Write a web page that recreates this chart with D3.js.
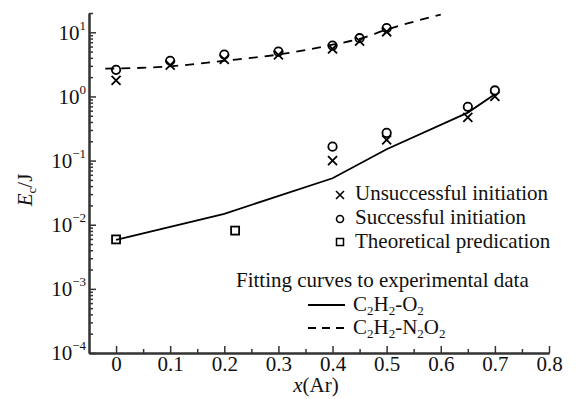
<!DOCTYPE html>
<html>
<head>
<meta charset="utf-8">
<script src="https://cdn.jsdelivr.net/npm/d3@7"></script>
<style>
  html, body { margin: 0; padding: 0; background: #fff; }
  svg { display: block; font-family: "Liberation Serif", "DejaVu Serif", serif; }
</style>
</head>
<body>
<svg id="chart" width="578" height="399"></svg>
<script>
// x positions (Ar fraction) and energies (J)
const unsucX = [0, 0.1, 0.2, 0.3, 0.4, 0.45, 0.5, 0.4, 0.5, 0.65, 0.7];
const unsucY = [1.78, 3.07, 3.77, 4.45, 5.5, 7.3, 10.2, 0.1, 0.21, 0.47, 1.0];
const succX = [0, 0.1, 0.2, 0.3, 0.4, 0.45, 0.5, 0.4, 0.5, 0.65, 0.7];
const succY = [2.6, 3.6, 4.5, 5.0, 6.2, 8.1, 11.6, 0.165, 0.27, 0.69, 1.24];
const theoX = [0, 0.22];
const theoY = [0.0059, 0.0081];

// fitting curves
const fitO2X = [0, 0.2, 0.4, 0.5, 0.65, 0.7];
const fitO2Y = [0.0058, 0.0148, 0.053, 0.15, 0.56, 1.08];
const fitN2O2X = [-0.02, 0, 0.1, 0.2, 0.3, 0.4, 0.45, 0.5, 0.6];
const fitN2O2Y = [2.72, 2.73, 2.95, 3.6, 4.5, 6.4, 7.9, 11.0, 18.9];

const xTicks = [0, 0.1, 0.2, 0.3, 0.4, 0.5, 0.6, 0.7, 0.8];
const xMinor = [0.05, 0.15, 0.25, 0.35, 0.45, 0.55, 0.65, 0.75];
const yExp = [-4, -3, -2, -1, 0, 1];

const svg = d3.select("#chart");
const axisColor = "#333";
const serif = "Liberation Serif";

const x = d3.scaleLinear().domain([-0.05, 0.8]).range([89, 549]);
const y = d3.scaleLog().domain([1e-4, 20]).range([353, 13]);

// minor ticks for log axis: 2..9 per decade
let yMinor = [];
yExp.forEach(e => {
  for (let k = 2; k <= 9; k++) {
    const v = k * Math.pow(10, e);
    if (v <= 20) yMinor.push(v);
  }
});

// x axis
const gx = svg.append("g").attr("transform", "translate(0,353)");
gx.call(d3.axisBottom(x).tickValues(xTicks).tickSizeInner(-7).tickSizeOuter(0)
  .tickPadding(3).tickFormat(d => d === 0 ? "0" : d3.format(".1f")(d)));
gx.append("g").call(d3.axisBottom(x).tickValues(xMinor).tickSizeInner(-4)
  .tickSizeOuter(0).tickFormat(""));
gx.attr("font-family", serif).attr("font-size", 21);
gx.selectAll("text").attr("fill", "#111");

// y axis
const gy = svg.append("g").attr("transform", "translate(89,0)");
gy.call(d3.axisLeft(y).tickValues(yExp.map(e => Math.pow(10, e)))
  .tickSizeInner(-7).tickSizeOuter(0).tickPadding(3).tickFormat(""));
gy.attr("font-family", serif).attr("font-size", 21);
gy.selectAll(".tick text").each(function(d) {
  const t = d3.select(this);
  const e = Math.round(Math.log10(d));
  t.attr("fill", "#111");
  t.append("tspan").text("10");
  t.append("tspan").attr("font-size", 13).attr("dy", "-0.75em")
    .text(e < 0 ? "\u2212" + (-e) : String(e));
});
gy.append("g").call(d3.axisLeft(y).tickValues(yMinor).tickSizeInner(-4)
  .tickSizeOuter(0).tickFormat(""));

svg.selectAll(".domain").attr("stroke", axisColor).attr("stroke-width", 2);
svg.selectAll(".tick line").attr("stroke", axisColor).attr("stroke-width", 1.5);

// fitting curves
const plot = svg.append("g");
plot.append("path")
  .datum(d3.zip(fitO2X, fitO2Y))
  .attr("d", d3.line().x(d => x(d[0])).y(d => y(d[1])))
  .attr("fill", "none").attr("stroke", "#000").attr("stroke-width", 1.8);
plot.append("path")
  .datum(d3.zip(fitN2O2X, fitN2O2Y))
  .attr("d", d3.line().x(d => x(d[0])).y(d => y(d[1])).curve(d3.curveMonotoneX))
  .attr("fill", "none").attr("stroke", "#000").attr("stroke-width", 1.8)
  .attr("stroke-dasharray", "9,7");

// markers
const crossPath = s => `M${-s},${-s}L${s},${s}M${-s},${s}L${s},${-s}`;
plot.selectAll(".unsuc").data(d3.zip(unsucX, unsucY)).enter().append("path")
  .attr("class", "unsuc")
  .attr("transform", d => `translate(${x(d[0])},${y(d[1])})`)
  .attr("d", crossPath(4.5))
  .attr("stroke", "#000").attr("stroke-width", 1.8).attr("fill", "none");
plot.selectAll(".succ").data(d3.zip(succX, succY)).enter().append("circle")
  .attr("class", "succ")
  .attr("cx", d => x(d[0])).attr("cy", d => y(d[1])).attr("r", 4.2)
  .attr("stroke", "#000").attr("stroke-width", 1.8).attr("fill", "none");
plot.selectAll(".theo").data(d3.zip(theoX, theoY)).enter().append("rect")
  .attr("class", "theo")
  .attr("x", d => x(d[0]) - 4).attr("y", d => y(d[1]) - 4)
  .attr("width", 8).attr("height", 8)
  .attr("stroke", "#000").attr("stroke-width", 1.8).attr("fill", "none");

// legend
const leg = svg.append("g").attr("font-size", 21).attr("fill", "#111");
leg.append("path").attr("transform", "translate(340,195)").attr("d", crossPath(4))
  .attr("stroke", "#000").attr("stroke-width", 1.6);
leg.append("text").attr("x", 355).attr("y", 200).text("Unsuccessful initiation");
leg.append("circle").attr("cx", 340).attr("cy", 219).attr("r", 3.5)
  .attr("stroke", "#000").attr("stroke-width", 1.6).attr("fill", "none");
leg.append("text").attr("x", 355).attr("y", 224).text("Successful initiation");
leg.append("rect").attr("x", 336.5).attr("y", 238.5).attr("width", 7).attr("height", 7)
  .attr("stroke", "#000").attr("stroke-width", 1.5).attr("fill", "none");
leg.append("text").attr("x", 355).attr("y", 248).text("Theoretical predication");
leg.append("text").attr("x", 236).attr("y", 287).text("Fitting curves to experimental data");

leg.append("line").attr("x1", 308).attr("x2", 345).attr("y1", 305).attr("y2", 305)
  .attr("stroke", "#000").attr("stroke-width", 1.8);
leg.append("line").attr("x1", 308).attr("x2", 345).attr("y1", 328).attr("y2", 328)
  .attr("stroke", "#000").attr("stroke-width", 1.8).attr("stroke-dasharray", "8,6");

function formula(textSel, parts) {
  parts.forEach(p => {
    if (p.sub) {
      textSel.append("tspan").attr("font-size", 13).attr("dy", "4").text(p.t);
    } else {
      textSel.append("tspan").attr("dy", p.back ? "-4" : "0").text(p.t);
    }
  });
}
const f1 = leg.append("text").attr("x", 353).attr("y", 311);
formula(f1, [{t: "C"}, {t: "2", sub: 1}, {t: "H", back: 1}, {t: "2", sub: 1},
  {t: "-O", back: 1}, {t: "2", sub: 1}]);
const f2 = leg.append("text").attr("x", 353).attr("y", 334);
formula(f2, [{t: "C"}, {t: "2", sub: 1}, {t: "H", back: 1}, {t: "2", sub: 1},
  {t: "-N", back: 1}, {t: "2", sub: 1}, {t: "O", back: 1}, {t: "2", sub: 1}]);

// axis titles
const xt = svg.append("text").attr("x", 316).attr("y", 392)
  .attr("text-anchor", "middle").attr("font-size", 21).attr("fill", "#111");
xt.append("tspan").attr("font-style", "italic").text("x");
xt.append("tspan").text("(Ar)");

const yt = svg.append("text").attr("transform", "translate(32,190) rotate(-90)")
  .attr("text-anchor", "middle").attr("font-size", 21).attr("fill", "#111");
yt.append("tspan").attr("font-style", "italic").text("E");
yt.append("tspan").attr("font-size", 13).attr("dy", "4").text("c");
yt.append("tspan").attr("dy", "-4").text("/J");
</script>
</body>
</html>
